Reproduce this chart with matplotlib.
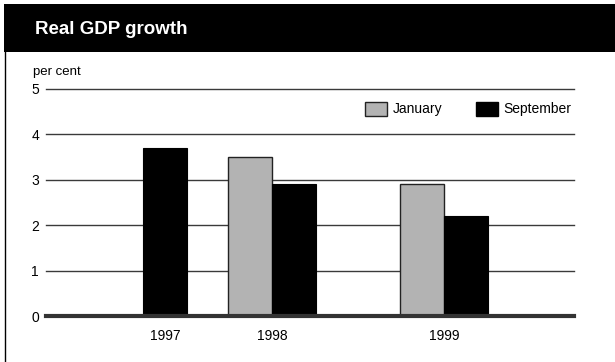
import numpy as np
import matplotlib
matplotlib.use("Agg")
import matplotlib.pyplot as plt
from matplotlib.patches import Rectangle
from matplotlib.lines import Line2D

# ---- data ----
years = ["1997", "1998", "1999"]
january = [np.nan, 3.5, 2.9]
september = [3.7, 2.9, 2.2]
series_names = ["January", "September"]
y_ticks = [0, 1, 2, 3, 4, 5]

# ---- layout (axis units ~ pixels) ----
group_centers = [119, 226, 398]
bar_w = 44
jan_color = "#b3b3b3"
sep_color = "#000000"

plt.rcParams["font.family"] = ["Liberation Sans", "DejaVu Sans"]

W, H = 615, 362
fig = plt.figure(figsize=(W / 100, H / 100), dpi=100)

# header bar
fig.patches.append(Rectangle((4 / W, 1 - 52 / H), 1 - 4 / W, 48 / H,
                             transform=fig.transFigure, facecolor="black",
                             edgecolor="none", zorder=0))
# left frame line
fig.lines.append(Line2D([5 / W, 5 / W], [0, 1 - 52 / H], transform=fig.transFigure,
                        color="black", lw=1.0))
fig.text(35 / W, 1 - 29 / H, "Real GDP growth", color="white", fontsize=13.5,
         fontweight="bold", va="center", ha="left",
         family=["Liberation Sans Narrow", "Liberation Sans", "DejaVu Sans"])
fig.text(33 / W, 1 - 72 / H, "per cent", fontsize=9.5, va="center", ha="left")

ax = fig.add_axes([46 / W, 1 - 316 / H, 528 / W, 227 / H])
ax.set_xlim(0, 528)
ax.set_ylim(0, 5)
for s in ax.spines.values():
    s.set_visible(False)

for t in y_ticks[1:]:
    ax.axhline(t, color="#3a3a3a", lw=1.0, zorder=1, clip_on=False)
ax.axhline(0, color="#333333", lw=3.0, zorder=3, clip_on=False)

for i, c in enumerate(group_centers):
    j, s = january[i], september[i]
    if np.isnan(j):
        ax.bar(c, s, width=bar_w, color=sep_color, edgecolor=sep_color, lw=0.8, zorder=2)
    else:
        ax.bar(c - bar_w / 2, j, width=bar_w, color=jan_color, edgecolor="#222222", lw=1.0, zorder=2)
        ax.bar(c + bar_w / 2, s, width=bar_w, color=sep_color, edgecolor=sep_color, lw=0.8, zorder=2)

ax.set_yticks(y_ticks)
ax.set_yticklabels([str(t) for t in y_ticks], fontsize=10)
ax.set_xticks(group_centers)
ax.set_xticklabels(years, fontsize=10)
ax.tick_params(axis="both", length=0)
ax.tick_params(axis="y", pad=5)
ax.tick_params(axis="x", pad=9)

handles = [Rectangle((0, 0), 1, 1, facecolor=jan_color, edgecolor="#222222", lw=1.0),
           Rectangle((0, 0), 1, 1, facecolor=sep_color, edgecolor=sep_color)]
ax.legend(handles, series_names, loc="center left", bbox_to_anchor=(0.604, 0.912),
          ncol=2, frameon=False, fontsize=10, handlelength=1.6, handleheight=1.2,
          handletextpad=0.4, columnspacing=2.4, borderpad=0, borderaxespad=0)

fig.savefig("out.png", dpi=100)
